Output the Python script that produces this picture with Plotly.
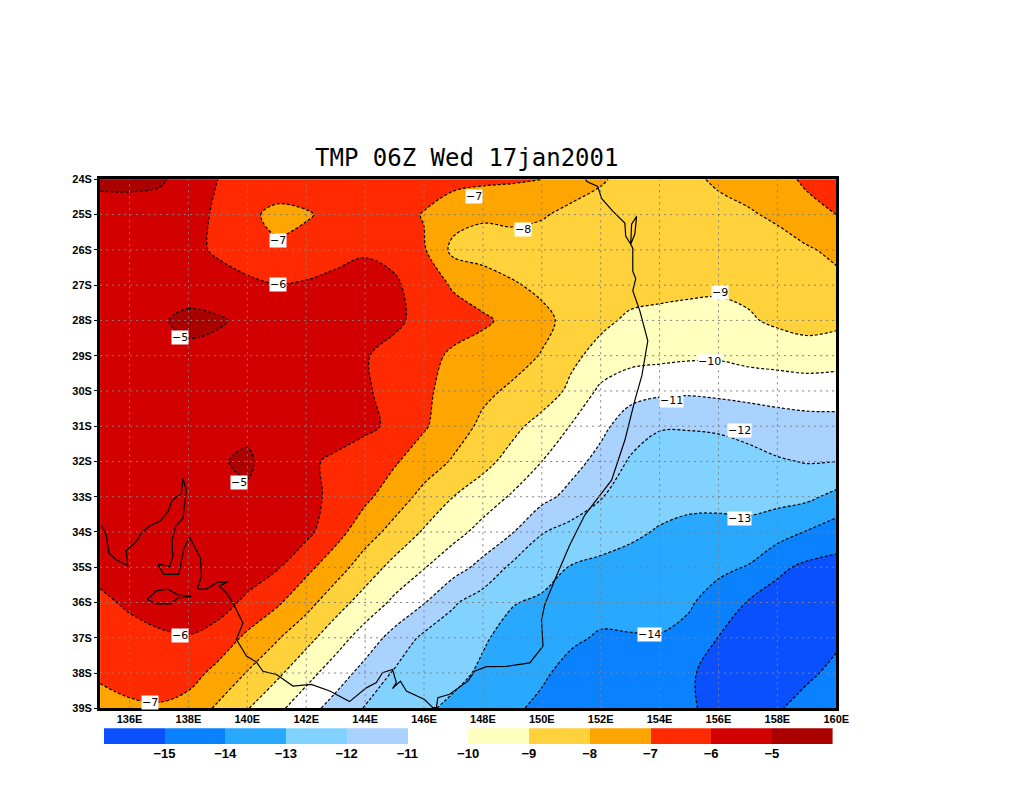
import plotly.graph_objects as go

W, H = 1024, 800

lons = list(range(135, 161))
lats = [-24, -25, -26, -27, -28, -29, -30, -31, -32, -33, -34, -35, -36, -37, -38, -39]

# temperature, one row per latitude, 135E to 160E
tmp = [
    [-4.8, -4.75, -4.85, -5.4, -6.0, -6.2, -6.3, -6.4, -6.4, -6.5, -6.5, -6.6, -6.7, -6.8, -6.9, -7.0, -7.4, -7.9, -8.3, -8.5, -8.2, -7.85, -7.65, -7.4, -6.8, -6.5],
    [-5.4, -5.45, -5.5, -5.75, -6.1, -6.75, -7.3, -7.1, -6.7, -6.5, -6.65, -7.05, -7.6, -7.87, -7.73, -7.89, -8.3, -8.4, -8.55, -8.6, -8.5, -8.3, -8.1, -7.85, -7.4, -7.0],
    [-5.4, -5.4, -5.45, -5.7, -6.15, -6.5, -6.8, -6.6, -6.3, -6.1, -6.3, -6.9, -8.25, -8.4, -8.5, -8.6, -8.7, -8.75, -8.8, -8.8, -8.75, -8.65, -8.5, -8.35, -8.1, -7.8],
    [-5.3, -5.3, -5.35, -5.4, -5.55, -5.8, -5.97, -5.9, -5.75, -5.65, -5.85, -6.5, -7.1, -7.5, -7.9, -8.2, -8.4, -8.55, -8.65, -8.72, -8.8, -8.85, -8.8, -8.65, -8.45, -8.25],
    [-5.3, -5.25, -5.1, -4.8, -4.9, -5.2, -5.3, -5.3, -5.35, -5.5, -5.85, -6.25, -6.6, -6.85, -7.25, -7.75, -8.3, -8.8, -9.15, -9.25, -9.3, -9.3, -9.1, -8.85, -8.7, -8.75],
    [-5.3, -5.3, -5.3, -5.2, -5.3, -5.4, -5.5, -5.6, -5.75, -5.95, -6.25, -6.7, -7.15, -7.4, -7.65, -8.05, -8.8, -9.3, -9.65, -9.75, -9.85, -9.88, -9.7, -9.55, -9.4, -9.6],
    [-5.3, -5.3, -5.3, -5.25, -5.3, -5.35, -5.4, -5.5, -5.65, -5.9, -6.3, -6.85, -7.3, -7.8, -8.15, -8.5, -9.2, -10.2, -10.65, -10.8, -10.85, -10.75, -10.65, -10.65, -10.6, -10.5],
    [-5.3, -5.3, -5.3, -5.3, -5.3, -5.3, -5.35, -5.45, -5.6, -5.8, -6.2, -6.9, -7.55, -8.2, -8.75, -9.35, -10.05, -10.75, -11.5, -11.95, -11.95, -11.9, -11.7, -11.4, -11.3, -11.35],
    [-5.4, -5.35, -5.3, -5.25, -5.12, -4.8, -5.7, -5.85, -6.15, -6.55, -6.9, -7.5, -8.1, -8.7, -9.35, -10.0, -10.65, -11.3, -12.1, -12.3, -12.35, -12.35, -12.3, -12.1, -11.95, -12.0],
    [-5.4, -5.35, -5.3, -5.25, -5.25, -5.2, -5.35, -5.7, -6.25, -6.8, -7.5, -8.3, -9.0, -9.55, -10.1, -10.7, -11.3, -11.95, -12.4, -12.7, -12.8, -12.78, -12.65, -12.7, -12.8, -13.25],
    [-5.5, -5.4, -5.35, -5.3, -5.3, -5.35, -5.45, -5.75, -6.65, -7.55, -8.35, -9.1, -9.7, -10.3, -10.95, -11.95, -12.35, -12.6, -12.85, -13.07, -13.2, -13.25, -13.3, -13.6, -14.05, -14.5],
    [-5.7, -5.6, -5.45, -5.35, -5.35, -5.5, -5.9, -6.75, -7.55, -8.5, -9.3, -9.95, -10.6, -11.3, -12.2, -12.6, -13.05, -13.2, -13.3, -13.4, -13.54, -13.8, -14.05, -14.8, -15.2, -15.3],
    [-6.2, -5.85, -5.6, -5.5, -5.6, -6.2, -6.85, -7.65, -8.6, -9.4, -10.2, -10.95, -11.9, -12.45, -12.95, -13.15, -13.45, -13.68, -13.68, -13.72, -13.9, -14.4, -15.05, -15.4, -15.5, -15.5],
    [-6.55, -6.35, -6.15, -6.05, -6.4, -7.2, -7.9, -8.7, -9.55, -10.45, -11.35, -12.2, -12.5, -12.9, -13.3, -13.5, -13.85, -14.1, -14.06, -14.04, -14.25, -15.02, -15.3, -15.5, -15.45, -15.15],
    [-6.85, -6.65, -6.5, -6.6, -7.3, -8.05, -8.8, -9.65, -10.5, -11.35, -12.1, -12.45, -12.75, -13.15, -13.55, -13.86, -14.3, -14.4, -14.5, -14.6, -14.85, -15.45, -15.5, -15.4, -15.15, -14.8],
    [-7.35, -7.15, -7.1, -7.4, -8.15, -8.95, -9.75, -10.6, -11.4, -12.05, -12.4, -12.85, -13.2, -13.55, -13.85, -14.2, -14.5, -14.6, -14.7, -14.8, -14.9, -15.25, -15.3, -15.08, -14.7, -14.4],
]

band_colors = ["#0a50ff", "#0a82ff", "#28a8ff", "#82d2ff", "#aad2ff", "#ffffff",
               "#ffffbe", "#ffd23c", "#ffa500", "#ff2a00", "#d20000", "#aa0000"]
levels = [-15, -14, -13, -12, -11, -10, -9, -8, -7, -6, -5]

lon_ticks = list(range(136, 161, 2))
lat_ticks = list(range(-24, -40, -1))

coast_lon = [135.04, 135.21, 135.30, 135.55, 135.94, 135.89, 136.23, 136.40, 136.68, 137.04, 137.30, 137.45, 137.76, 137.81, 137.93, 137.81, 137.56, 137.44, 137.47, 137.36, 136.96, 137.16, 137.67, 137.85, 138.04, 138.21, 138.41, 138.44, 138.30, 138.61, 139.00, 139.34, 139.04, 139.29, 139.51, 139.85, 139.63, 139.97, 140.31, 140.53, 140.99, 141.55, 142.17, 142.80, 143.47, 144.04, 144.38, 144.59, 144.93, 145.06, 144.93, 145.20, 145.40, 146.02, 146.30, 146.42, 146.47, 146.87, 147.49, 147.72, 148.12, 148.80, 149.59, 150.04, 149.99, 150.10, 150.44, 150.95, 151.46, 152.37, 152.82, 153.16, 153.40, 153.60, 153.33, 153.09, 153.19, 153.09, 153.09, 153.02, 153.05, 153.22, 153.16, 153.02, 152.85, 152.82, 152.41, 152.03, 151.90, 151.53, 151.49]
coast_lat = [-33.80, -34.08, -34.60, -34.79, -34.96, -34.53, -34.27, -34.04, -33.83, -33.69, -33.43, -33.10, -32.91, -32.48, -32.81, -33.61, -33.85, -34.23, -34.70, -34.98, -34.91, -35.20, -35.20, -34.46, -34.15, -34.43, -34.74, -35.26, -35.62, -35.62, -35.42, -35.42, -35.53, -35.73, -36.01, -36.58, -37.05, -37.52, -37.69, -37.95, -38.04, -38.37, -38.32, -38.51, -38.81, -38.42, -38.27, -37.99, -37.90, -38.27, -38.44, -38.23, -38.51, -38.75, -38.98, -38.98, -38.70, -38.60, -38.23, -37.95, -37.82, -37.81, -37.71, -37.24, -36.49, -36.06, -35.36, -34.37, -33.52, -32.53, -31.40, -30.27, -29.56, -28.58, -27.73, -27.16, -26.82, -26.60, -25.95, -25.84, -25.27, -25.05, -25.55, -25.84, -25.61, -25.24, -24.90, -24.54, -24.20, -24.06, -24.0]
island_lon = [136.59, 136.91, 137.30, 137.64, 138.10, 137.64, 137.42, 136.96, 136.59]
island_lat = [-35.92, -35.67, -35.62, -35.78, -35.83, -35.87, -36.04, -36.04, -35.92]

label_lon = [141.05, 147.69, 149.35, 141.03, 156.04, 137.70, 155.70, 154.41, 156.72, 139.70, 156.72, 137.70, 153.67, 136.68]
label_lat = [-25.72, -24.48, -25.41, -26.97, -27.22, -28.49, -29.17, -30.27, -31.12, -32.59, -33.63, -36.94, -36.91, -38.83]
label_val = [-7, -7, -8, -6, -9, -5, -10, -11, -12, -5, -13, -6, -14, -7]

n = len(band_colors)
scale = []
for i, c in enumerate(band_colors):
    scale.append([i / n, c])
    scale.append([(i + 1) / n, c])

fig = go.Figure()

fig.add_trace(go.Contour(
    x=lons, y=lats, z=tmp,
    autocontour=False,
    contours=dict(start=-15, end=-5, size=1, coloring="fill", showlabels=False),
    colorscale=scale, zmin=-16, zmax=-4, showscale=False,
    line=dict(color="black", width=1.2, dash="3px,2px", smoothing=1),
    hoverinfo="skip",
))

fig.add_trace(go.Scatter(x=coast_lon, y=coast_lat, mode="lines",
                         line=dict(color="black", width=1.2), hoverinfo="skip"))
fig.add_trace(go.Scatter(x=island_lon, y=island_lat, mode="lines",
                         line=dict(color="black", width=1.2), hoverinfo="skip"))

# colour key under the map
fig.add_trace(go.Bar(x=list(range(n)), y=[1] * n, width=1, marker=dict(color=band_colors, line_width=0),
                     xaxis="x2", yaxis="y2", hoverinfo="skip"))

# grads draws the grid over the shading, so these go on as shapes
for lon in lon_ticks[:-1]:
    fig.add_shape(type="line", xref="x", yref="y", x0=lon, x1=lon, y0=-39, y1=-24, layer="above",
                  line=dict(color="#808080", width=1, dash="2px,4px"))
for lat in lat_ticks[1:-1]:
    fig.add_shape(type="line", xref="x", yref="y", x0=135, x1=160, y0=lat, y1=lat, layer="above",
                  line=dict(color="#808080", width=1, dash="2px,4px"))

for lon, lat, val in zip(label_lon, label_lat, label_val):
    fig.add_annotation(x=lon, y=lat, text=f"\u2212{abs(val)}", showarrow=False, bgcolor="white",
                       font=dict(family="DejaVu Sans", size=11, color="black"), borderpad=0)

fig.add_annotation(xref="paper", yref="paper", x=473 / W, y=1 - 154 / H, yanchor="middle",
                   text="TMP 06Z Wed 17jan2001",
                   showarrow=False, font=dict(family="DejaVu Sans Mono", size=24, color="black"))

tick_font = dict(family="Liberation Sans", size=11, color="black", weight=700)
fig.update_layout(
    width=W, height=H, autosize=False,
    margin=dict(l=0, r=0, t=0, b=0),
    paper_bgcolor="white", plot_bgcolor="white",
    showlegend=False, bargap=0,
    xaxis=dict(domain=[101.4 / W, 847 / W], range=[135, 160], tickvals=lon_ticks,
               ticktext=[f"{v}E" for v in lon_ticks], showgrid=False, zeroline=False,
               showline=True, mirror=True, linecolor="black", linewidth=3,
               ticks="", ticklabelstandoff=-2, tickfont=tick_font),
    yaxis=dict(domain=[1 - 713 / H, 1 - 176 / H], range=[-39, -24], tickvals=lat_ticks,
               ticktext=[f"{abs(v)}S" for v in lat_ticks], showgrid=False, zeroline=False,
               showline=True, mirror=True, linecolor="black", linewidth=3,
               ticks="outside", ticklen=3, tickcolor="black", tickfont=tick_font),
    xaxis2=dict(domain=[105 / W, 843.3 / W], range=[-0.5, n - 0.5], anchor="y2",
                tickvals=[i + 0.5 for i in range(len(levels))],
                ticktext=[f"\u2212{abs(v)}" for v in levels], showgrid=False, zeroline=False,
                ticks="", ticklabelstandoff=0,
                tickfont=dict(family="Liberation Sans", size=13, color="black", weight=700)),
    yaxis2=dict(domain=[1 - 749.5 / H, 1 - 733.3 / H], range=[0, 1], anchor="x2", visible=False),
)

fig.write_html("out.html", config=dict(displayModeBar=False, responsive=False),
               default_width=f"{W}px", default_height=f"{H}px",
               post_script="document.body.style.margin='0';document.body.style.overflow='hidden';")
